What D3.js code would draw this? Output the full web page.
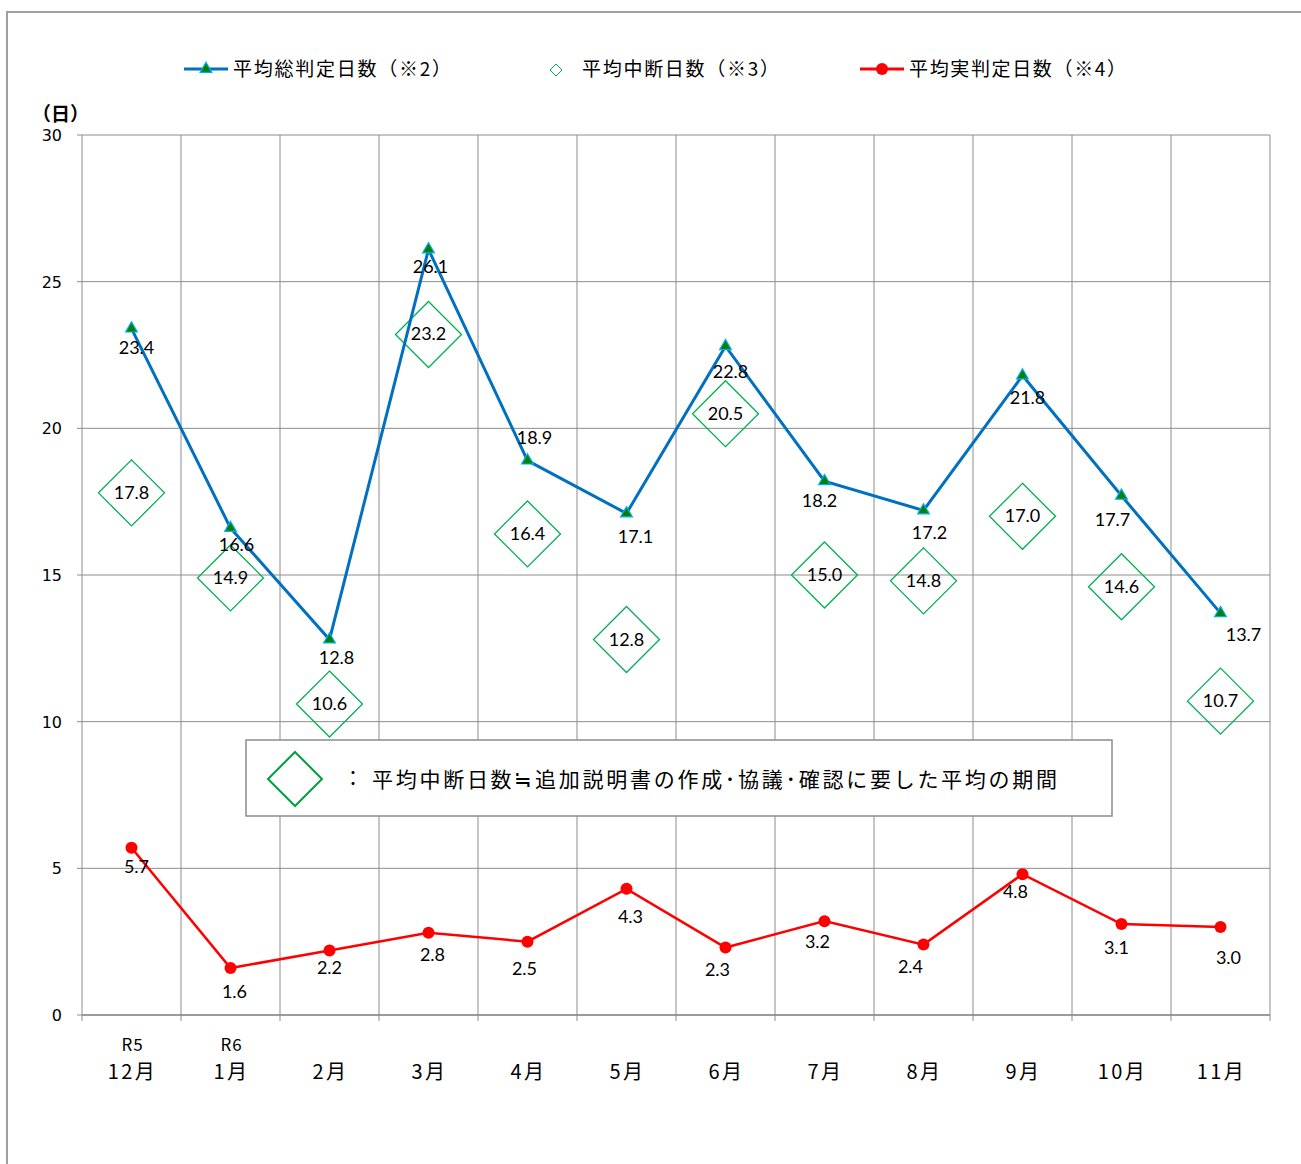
<!DOCTYPE html>
<html><head><meta charset="utf-8">
<script src="https://cdn.jsdelivr.net/npm/d3@7"></script>
<style>body{margin:0;background:#fff}svg{display:block}</style>
</head><body>
<svg id="c" width="1301" height="1164"></svg>
<script>
const categories = ["12月","1月","2月","3月","4月","5月","6月","7月","8月","9月","10月","11月"];
const eraLabels = ["R5","R6","","","","","","","","","",""];
const totalDays = [23.4,16.6,12.8,26.1,18.9,17.1,22.8,18.2,17.2,21.8,17.7,13.7];
const suspendDays = [17.8,14.9,10.6,23.2,16.4,12.8,20.5,15.0,14.8,17.0,14.6,10.7];
const actualDays = [5.7,1.6,2.2,2.8,2.5,4.3,2.3,3.2,2.4,4.8,3.1,3.0];
const yTicks = [0,5,10,15,20,25,30];
const seriesNames = ["平均総判定日数（※2）","平均中断日数（※3）","平均実判定日数（※4）"];
const noteText = "平均中断日数≒追加説明書の作成･協議･確認に要した平均の期間";
// label offsets (styling)
const totalLabelOff = [[5,19],[6,17],[7,18],[2,18],[7,-23],[9,24],[5,26],[-5,20],[6,23],[5,22],[-9,24],[23,22]];
const actualLabelOff = [[5,19],[4,24],[0,18],[4,22],[-3,27],[4,28],[-8,22],[-7,21],[-13,22],[-7,18],[-5,24],[8,31]];

const svg = d3.select("#c");
const L = 82, R = 1270, T = 135, B = 1015;
const x = d3.scaleBand().domain(d3.range(categories.length)).range([L,R]).padding(0);
const y = d3.scaleLinear().domain([0,30]).range([B,T]);
const cx = i => x(i) + x.bandwidth()/2;
const numFont = "Lato, 'Noto Sans', sans-serif";
const jpFont = "'Noto Sans CJK JP', sans-serif";

// outer border
svg.append("rect").attr("x",7).attr("y",12).attr("width",1300).attr("height",1160)
  .attr("fill","none").attr("stroke","#a0a0a0").attr("stroke-width",2);

// gridlines horizontal
svg.append("g").selectAll("line").data(yTicks).join("line")
  .attr("x1",L).attr("x2",R).attr("y1",d=>y(d)).attr("y2",d=>y(d))
  .attr("stroke","#8c8c8c").attr("stroke-width",1);
// vertical gridlines
const bounds = d3.range(categories.length+1).map(i => i<categories.length ? x(i) : R);
svg.append("g").selectAll("line").data(bounds).join("line")
  .attr("x1",d=>d).attr("x2",d=>d).attr("y1",T).attr("y2",B+6)
  .attr("stroke","#8c8c8c").attr("stroke-width",1);
// y axis ticks
svg.append("g").selectAll("line").data(yTicks).join("line")
  .attr("x1",L-5).attr("x2",L).attr("y1",d=>y(d)).attr("y2",d=>y(d))
  .attr("stroke","#8c8c8c");
svg.append("line").attr("x1",L).attr("x2",R).attr("y1",B).attr("y2",B).attr("stroke","#8c8c8c").attr("stroke-width",1.5);

// y tick labels
svg.append("g").selectAll("text").data(yTicks).join("text")
  .attr("x",62).attr("y",d=>y(d)+6).attr("text-anchor","end")
  .attr("font-family","'DejaVu Sans', sans-serif").attr("font-size",16).attr("fill","#000")
  .text(d=>d);
svg.append("text").attr("x",32).attr("y",121).attr("font-family",jpFont).attr("font-weight","bold")
  .attr("font-size",19).text("（日）");

// x labels
svg.append("g").selectAll("text").data(eraLabels).join("text")
  .attr("x",(d,i)=>cx(i)+1).attr("y",1051).attr("text-anchor","middle")
  .attr("font-family",jpFont).attr("font-size",17).attr("letter-spacing",1).text(d=>d);
svg.append("g").selectAll("text").data(categories).join("text")
  .attr("x",(d,i)=>cx(i)+1).attr("y",1079).attr("text-anchor","middle")
  .attr("font-family",jpFont).attr("font-size",20).attr("letter-spacing",2.5).text(d=>d);

// diamonds (suspend)
const dSize = 33;
const diamondPath = (r) => `M0,${-r}L${r},0L0,${r}L${-r},0Z`;
const dg = svg.append("g");
dg.selectAll("path").data(suspendDays).join("path")
  .attr("transform",(d,i)=>`translate(${cx(i)},${y(d)})`)
  .attr("d",diamondPath(dSize)).attr("fill","none").attr("stroke","#00B050").attr("stroke-width",1.3);

// total line
const line = d3.line().x((d,i)=>cx(i)).y(d=>y(d));
svg.append("path").datum(totalDays).attr("d",line).attr("fill","none")
  .attr("stroke","#0070C0").attr("stroke-width",3);
const tri = d3.symbol().type(d3.symbolTriangle).size(60);
svg.append("g").selectAll("path").data(totalDays).join("path")
  .attr("transform",(d,i)=>`translate(${cx(i)},${y(d)})`).attr("d",tri())
  .attr("fill","#008000").attr("stroke","#00B0F0").attr("stroke-width",1.2);

// actual line
svg.append("path").datum(actualDays).attr("d",line).attr("fill","none")
  .attr("stroke","#FF0000").attr("stroke-width",2.5);
svg.append("g").selectAll("circle").data(actualDays).join("circle")
  .attr("cx",(d,i)=>cx(i)).attr("cy",d=>y(d)).attr("r",6).attr("fill","#FF0000");

// labels
const lbl = (g,data,off) => g.selectAll("text").data(data).join("text")
  .attr("x",(d,i)=>cx(i)+off[i][0]).attr("y",(d,i)=>y(d)+off[i][1]+6)
  .attr("text-anchor","middle").attr("font-family",numFont).attr("font-size",18).attr("fill","#000")
  .text(d=>d.toFixed(1));
lbl(svg.append("g"),totalDays,totalLabelOff);
lbl(svg.append("g"),actualDays,actualLabelOff);
lbl(svg.append("g"),suspendDays,suspendDays.map(()=>[0,0]));

// note box
const nb = svg.append("g");
nb.append("rect").attr("x",246).attr("y",740).attr("width",866).attr("height",76)
  .attr("fill","#fff").attr("stroke","#8c8c8c").attr("stroke-width",1.5);
nb.append("path").attr("transform","translate(295,779)").attr("d",diamondPath(27))
  .attr("fill","none").attr("stroke","#00A040").attr("stroke-width",2);
nb.append("text").attr("x",343).attr("y",786).attr("font-family",jpFont).attr("font-size",20).text("：");
nb.append("text").attr("x",372).attr("y",787).attr("font-family",jpFont).attr("font-size",21)
  .attr("textLength",685).attr("lengthAdjust","spacing").text(noteText);

// legend
const lg = svg.append("g");
lg.append("line").attr("x1",184).attr("x2",228).attr("y1",69).attr("y2",69).attr("stroke","#0070C0").attr("stroke-width",3);
lg.append("path").attr("transform","translate(206,69)").attr("d",tri()).attr("fill","#008000").attr("stroke","#00B0F0").attr("stroke-width",1.2);
lg.append("path").attr("transform","translate(556,70)").attr("d",diamondPath(6)).attr("fill","none").attr("stroke","#00B050");
lg.append("line").attr("x1",860).attr("x2",904).attr("y1",69).attr("y2",69).attr("stroke","#FF0000").attr("stroke-width",3);
lg.append("circle").attr("cx",882).attr("cy",69).attr("r",6).attr("fill","#FF0000");
const lgx = [233,582,909];
const lgw = [218,197,217];
lg.selectAll("text.l").data(seriesNames).join("text").attr("class","l")
  .attr("x",(d,i)=>lgx[i]).attr("y",76).attr("font-family",jpFont).attr("font-size",19)
  .attr("textLength",(d,i)=>lgw[i]).attr("lengthAdjust","spacing").text(d=>d);
</script>
</body></html>
